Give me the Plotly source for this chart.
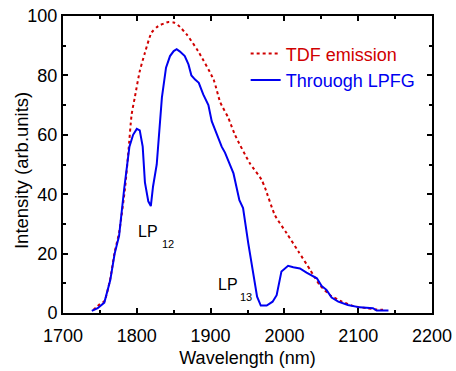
import plotly.graph_objects as go

# Blue curve: transmission through LPFG
wl_lpfg = [1739, 1747, 1756, 1764, 1770, 1776, 1783, 1790, 1795, 1800, 1804, 1808, 1811,
           1815.6, 1819, 1822, 1827, 1834, 1839.6, 1845, 1850, 1854, 1858.5, 1865, 1870,
           1874, 1879, 1884, 1890, 1897, 1901.5, 1910, 1915, 1919.5, 1926, 1931, 1939,
           1944, 1951, 1958, 1963, 1968, 1976, 1984, 1989.5, 1996, 2005, 2012, 2021,
           2030, 2044, 2050.5, 2057, 2064, 2073, 2086, 2102, 2120, 2125, 2141]
i_lpfg = [0.7, 1.6, 3.5, 11, 20, 26, 42, 56, 60, 62, 61.5, 56, 44,
          37.6, 36, 42.6, 50, 72.5, 82.6, 86.5, 88.2, 88.8, 88, 86.5, 83.7,
          80, 78.6, 77.5, 73.6, 70, 64.6, 59.5, 56, 54, 50, 47, 38,
          35.3, 23.5, 12.3, 5.5, 2.5, 2.5, 3.8, 6, 14, 15.9, 15.4, 15,
          13.6, 11.7, 9.1, 7.8, 5.2, 3.8, 2.7, 1.9, 1.6, 0.8, 0.8]

# Red dotted curve: TDF emission
wl_tdf = [1741, 1750, 1756, 1764, 1770, 1776, 1784, 1788.5, 1793, 1797.6, 1804, 1811,
          1820, 1829, 1843, 1850, 1856, 1867.6, 1883, 1904, 1913, 1924, 1933, 1953,
          1969, 1974, 1987, 2003, 2019, 2035, 2048, 2062, 2078, 2093, 2111.5, 2125, 2138]
i_tdf = [1, 3, 4, 11.5, 20.5, 27, 42, 54, 66.8, 73, 81.4, 87.6,
         94.4, 96.6, 98, 97.8, 96.9, 93.8, 88.2, 78.6, 71, 65.7, 60, 50.5,
         44.9, 42, 33, 26.9, 20.7, 14.5, 9.4, 6, 3.8, 2.4, 1.6, 1.2, 1]

x_ticks = [1700, 1800, 1900, 2000, 2100, 2200]
y_ticks = [0, 20, 40, 60, 80, 100]

RED = "#d00000"
BLUE = "#0000f0"
FONT = "Liberation Sans, Arial, sans-serif"

fig = go.Figure()
fig.add_trace(go.Scatter(x=wl_tdf, y=i_tdf, mode="lines",
                         name="<span style='color:%s'>TDF emission</span>" % RED,
                         line=dict(color=RED, width=2, dash="dot", shape="spline", smoothing=0.6)))
fig.add_trace(go.Scatter(x=wl_lpfg, y=i_lpfg, mode="lines",
                         name="<span style='color:%s'>Throuogh LPFG</span>" % BLUE,
                         line=dict(color=BLUE, width=2)))

axis_common = dict(showline=True, linecolor="black", linewidth=2, mirror="ticks",
                   ticks="inside", ticklen=5, tickwidth=2, tickcolor="black",
                   showgrid=False, zeroline=False, automargin=False,
                   tickfont=dict(family=FONT, size=18, color="black"))

fig.update_xaxes(range=[1700, 2200], tickvals=x_ticks, ticktext=[str(v) for v in x_ticks],
                 minor=dict(dtick=50, ticks="inside", ticklen=3, tickwidth=2, tickcolor="black", tick0=1700),
                 ticklabelstandoff=5,
                 title=dict(text="Wavelength (nm)", font=dict(family=FONT, size=18, color="black"), standoff=7),
                 **axis_common)
fig.update_yaxes(range=[0, 100], tickvals=y_ticks, ticktext=[str(v) for v in y_ticks],
                 minor=dict(dtick=10, ticks="inside", ticklen=3, tickwidth=2, tickcolor="black", tick0=0),
                 **axis_common)

# y-axis title placed as a rotated annotation
fig.add_annotation(xref="paper", yref="paper", x=-0.1138, y=0.478,
                   text="Intensity (arb.units)", textangle=-90, showarrow=False,
                   font=dict(family=FONT, size=18.5, color="black"),
                   xanchor="center", yanchor="middle")

ann_font = dict(family=FONT, size=16, color="black")
sub_font = dict(family=FONT, size=11, color="black")
fig.add_annotation(x=1815.2, y=27.6, text="LP", showarrow=False, font=ann_font,
                   xanchor="center", yanchor="middle")
fig.add_annotation(x=1841.6, y=23.3, text="12", showarrow=False, font=sub_font,
                   xanchor="center", yanchor="middle")
fig.add_annotation(x=1922.9, y=9.5, text="LP", showarrow=False, font=ann_font,
                   xanchor="center", yanchor="middle")
fig.add_annotation(x=1948, y=5.4, text="13", showarrow=False, font=sub_font,
                   xanchor="center", yanchor="middle")

fig.update_layout(
    width=456, height=371,
    margin=dict(l=63, r=24, t=16, b=58, autoexpand=False),
    paper_bgcolor="white", plot_bgcolor="white",
    showlegend=True,
    legend=dict(x=0.495, y=0.829, xanchor="left", yanchor="middle",
                bgcolor="rgba(0,0,0,0)", font=dict(family=FONT, size=18),
                itemwidth=30, tracegroupgap=0),
)

fig.write_html("out.html")
